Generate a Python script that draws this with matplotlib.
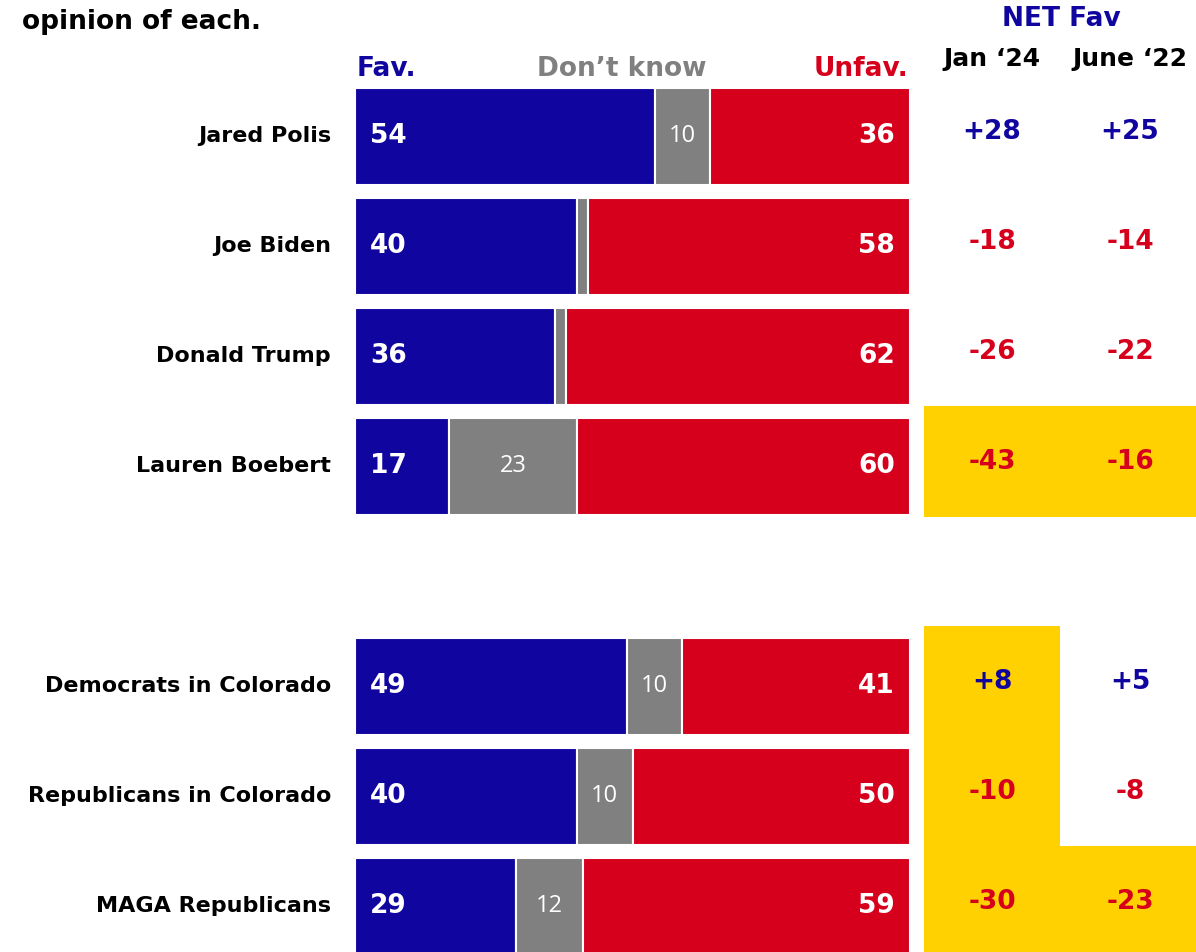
import numpy as np
import matplotlib.pyplot as plt
from matplotlib.patches import Rectangle

# Dados
nomes = ["Jared Polis", "Joe Biden", "Donald Trump", "Lauren Boebert",
         "Democrats in Colorado", "Republicans in Colorado", "MAGA Republicans"]
fav = [54, 40, 36, 17, 49, 40, 29]
nao_sabe = [10, 2, 2, 23, 10, 10, 12]
desfav = [36, 58, 62, 60, 41, 50, 59]
net_jan24 = [28, -18, -26, -43, 8, -10, -30]
net_jun22 = [25, -14, -22, -16, 5, -8, -23]
# destaque amarelo (jan24, jun22)
destaque_jan = [False, False, False, True, True, True, True]
destaque_jun = [False, False, False, True, False, False, True]
linhas = [0, 1, 2, 3, 5, 6, 7]

AZUL = "#10069F"
CINZA = "#808080"
VERMELHO = "#D6001C"
AMARELO = "#FFD100"

plt.rcParams['font.family'] = ['DejaVu Sans']

fig = plt.figure(figsize=(11.96, 9.52), dpi=100)
ax = fig.add_axes([0, 0, 1, 1])
px = 5.55  # pixels por unidade percentual
ax.set_xlim(-355 / px, (1196 - 355) / px)
ax.set_ylim((952 - 136.5) / 110, -136.5 / 110)
ax.axis("off")

y = np.array(linhas)
h = 0.882
ax.barh(y, fav, height=h, color=AZUL, edgecolor="white", linewidth=1.5)
ax.barh(y, nao_sabe, left=fav, height=h, color=CINZA, edgecolor="white", linewidth=1.5)
ax.barh(y, desfav, left=np.array(fav) + np.array(nao_sabe), height=h,
        color=VERMELHO, edgecolor="white", linewidth=1.5)

col_jan = (992 - 355) / px
col_jun = (1130 - 355) / px
x_yel0 = (924 - 355) / px
x_yel1 = (1060 - 355) / px
x_yel2 = (1196 - 355) / px

for i, yy in enumerate(y):
    if destaque_jan[i]:
        ax.add_patch(Rectangle((x_yel0, yy - 0.55), x_yel1 - x_yel0, 1.01,
                               color=AMARELO, lw=0, zorder=0))
    if destaque_jun[i]:
        ax.add_patch(Rectangle((x_yel1, yy - 0.55), x_yel2 - x_yel1, 1.01,
                               color=AMARELO, lw=0, zorder=0))

for i, yy in enumerate(y):
    ax.text(-24 / px, yy, nomes[i], ha="right", va="center", fontsize=16,
            fontweight="bold", color="black")
    ax.text(2.7, yy, str(fav[i]), ha="left", va="center", fontsize=19,
            fontweight="bold", color="white")
    ax.text(100 - 2.7, yy, str(desfav[i]), ha="right", va="center", fontsize=19,
            fontweight="bold", color="white")
    if nao_sabe[i] >= 5:
        ax.text(fav[i] + nao_sabe[i] / 2, yy, str(nao_sabe[i]), ha="center",
                va="center", fontsize=17, color="white",
                family=["Open Sans", "DejaVu Sans"], fontweight="normal")
    for col, v in [(col_jan, net_jan24[i]), (col_jun, net_jun22[i])]:
        txt = f"+{v}" if v > 0 else str(v)
        ax.text(col, yy - 0.04, txt, ha="center", va="center", fontsize=19,
                fontweight="bold", color=AZUL if v > 0 else VERMELHO)

# cabeçalhos
yh = (69 - 136.5) / 110
ax.text(0.3, yh, "Fav.", ha="left", va="center", fontsize=19,
        fontweight="bold", color=AZUL)
ax.text((622 - 355) / px, yh, "Don’t know", ha="center", va="center",
        fontsize=19, fontweight="bold", color=CINZA)
ax.text(99.7, yh, "Unfav.", ha="right", va="center", fontsize=19,
        fontweight="bold", color=VERMELHO)
ax.text((1061 - 355) / px, (19 - 136.5) / 110, "NET Fav", ha="center",
        va="center", fontsize=19, fontweight="bold", color=AZUL)
ax.text(col_jan, (59 - 136.5) / 110, "Jan ‘24", ha="center", va="center",
        fontsize=18, fontweight="bold", color="black")
ax.text(col_jun, (59 - 136.5) / 110, "June ‘22", ha="center", va="center",
        fontsize=18, fontweight="bold", color="black")
ax.text(-333 / px, (22 - 136.5) / 110, "opinion of each.", ha="left",
        va="center", fontsize=19, fontweight="bold", color="black")

plt.savefig("out.png", dpi=100)
